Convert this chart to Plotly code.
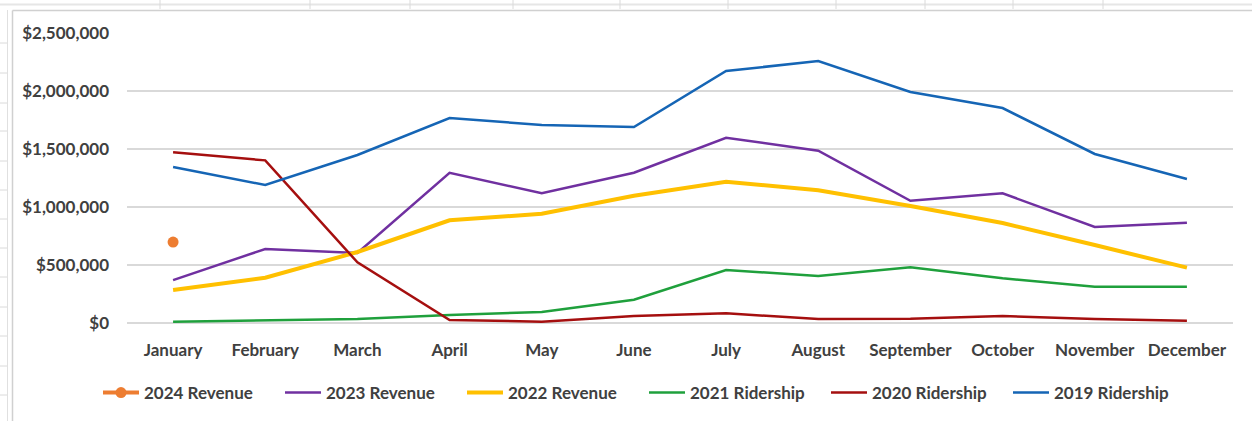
import plotly.graph_objects as go

months = ["January", "February", "March", "April", "May", "June", "July",
          "August", "September", "October", "November", "December"]

rev_2024 = [698000, None, None, None, None, None, None, None, None, None, None, None]
rev_2023 = [370000, 638000, 603000, 1295000, 1118000, 1295000, 1597000, 1485000,
            1054000, 1118000, 828000, 865000]
rev_2022 = [284000, 390000, 612000, 885000, 942000, 1097000, 1218000, 1144000,
            1009000, 862000, 672000, 477000]
rid_2021 = [11000, 20000, 35000, 69000, 95000, 201000, 457000, 405000,
            480000, 385000, 313000, 313000]
rid_2020 = [1471000, 1402000, 523000, 26000, 11000, 60000, 83000, 34000,
            37000, 60000, 34000, 20000]
rid_2019 = [1345000, 1190000, 1448000, 1767000, 1707000, 1690000, 2172000, 2259000,
            1991000, 1853000, 1457000, 1241000]

y_ticks = [0, 500000, 1000000, 1500000, 2000000, 2500000]
y_tick_labels = ["$0", "$500,000", "$1,000,000", "$1,500,000", "$2,000,000", "$2,500,000"]

W, H = 1252, 421
L, R, T, B = 127, 19, 33, 98
PW, PH = W - L - R, H - T - B

def px(x):
    return (x - L) / PW

def py(y):
    return (H - B - y) / PH

fig = go.Figure()

fig.add_trace(go.Scatter(x=months, y=rev_2024, name="2024 Revenue",
                         mode="lines+markers",
                         line=dict(color="#ED7D31", width=4),
                         marker=dict(size=11, color="#ED7D31")))
fig.add_trace(go.Scatter(x=months, y=rev_2023, name="2023 Revenue", mode="lines",
                         line=dict(color="#7030A0", width=2.5)))
fig.add_trace(go.Scatter(x=months, y=rev_2022, name="2022 Revenue", mode="lines",
                         line=dict(color="#FFC000", width=4)))
fig.add_trace(go.Scatter(x=months, y=rid_2021, name="2021 Ridership", mode="lines",
                         line=dict(color="#1FA03C", width=2.5)))
fig.add_trace(go.Scatter(x=months, y=rid_2020, name="2020 Ridership", mode="lines",
                         line=dict(color="#A50F0F", width=2.5)))
fig.add_trace(go.Scatter(x=months, y=rid_2019, name="2019 Ridership", mode="lines",
                         line=dict(color="#1565B5", width=2.5)))

font_family = "Lato, 'Open Sans', sans-serif"
text_color = "#404040"

shapes = []
# spreadsheet background lines
shapes.append(dict(type="line", xref="paper", yref="paper",
                   x0=px(0), x1=px(W), y0=py(4.5), y1=py(4.5),
                   line=dict(color="#E6E6E6", width=2), layer="below"))
for xv in [160, 310, 410, 513, 620, 728, 836, 925, 1013, 1103]:
    shapes.append(dict(type="line", xref="paper", yref="paper",
                       x0=px(xv), x1=px(xv), y0=py(0), y1=py(9),
                       line=dict(color="#DADADA", width=1), layer="below"))
shapes.append(dict(type="line", xref="paper", yref="paper",
                   x0=px(7.5), x1=px(7.5), y0=py(10), y1=py(H),
                   line=dict(color="#E0E0E0", width=1), layer="below"))
for yv in [43, 73, 103, 131, 161, 190, 219, 248, 277, 307, 336, 366, 395]:
    shapes.append(dict(type="line", xref="paper", yref="paper",
                       x0=px(0), x1=px(7), y0=py(yv), y1=py(yv),
                       line=dict(color="#DADADA", width=1), layer="below"))
# chart frame
shapes.append(dict(type="line", xref="paper", yref="paper",
                   x0=px(12.5), x1=px(W), y0=py(10.5), y1=py(10.5),
                   line=dict(color="#D0D0D0", width=1.5), layer="below"))
shapes.append(dict(type="line", xref="paper", yref="paper",
                   x0=px(12.5), x1=px(12.5), y0=py(10.5), y1=py(H),
                   line=dict(color="#D0D0D0", width=1.5), layer="below"))

fig.update_layout(
    width=W, height=H,
    margin=dict(l=L, r=R, t=T, b=B, autoexpand=False),
    paper_bgcolor="white", plot_bgcolor="white",
    font=dict(family=font_family, color=text_color, size=17),
    showlegend=True,
    legend=dict(orientation="h", xref="container", yref="container",
                x=98 / W, xanchor="left", y=1 - 393 / H, yanchor="middle",
                entrywidth=131, entrywidthmode="pixels",
                font=dict(family=font_family, size=17, color=text_color, weight="bold"),
                bgcolor="rgba(0,0,0,0)", traceorder="normal", itemwidth=36),
    shapes=shapes,
)

fig.update_xaxes(
    type="category", categoryorder="array", categoryarray=months,
    range=[-0.5, 11.5], showgrid=False, zeroline=False, showline=False,
    ticks="", ticklabelstandoff=15,
    tickfont=dict(family=font_family, size=17, color=text_color, weight="bold"),
)
fig.update_yaxes(
    range=[0, 2500000], tickvals=y_ticks, ticktext=y_tick_labels,
    showgrid=True, gridcolor="#D9D9D9", gridwidth=1.5,
    zeroline=True, zerolinecolor="#D9D9D9", zerolinewidth=1.5,
    showline=False, ticks="", ticklabelstandoff=17,
    tickfont=dict(family=font_family, size=17, color=text_color, weight="bold"),
)

fig.write_html("out.html")
